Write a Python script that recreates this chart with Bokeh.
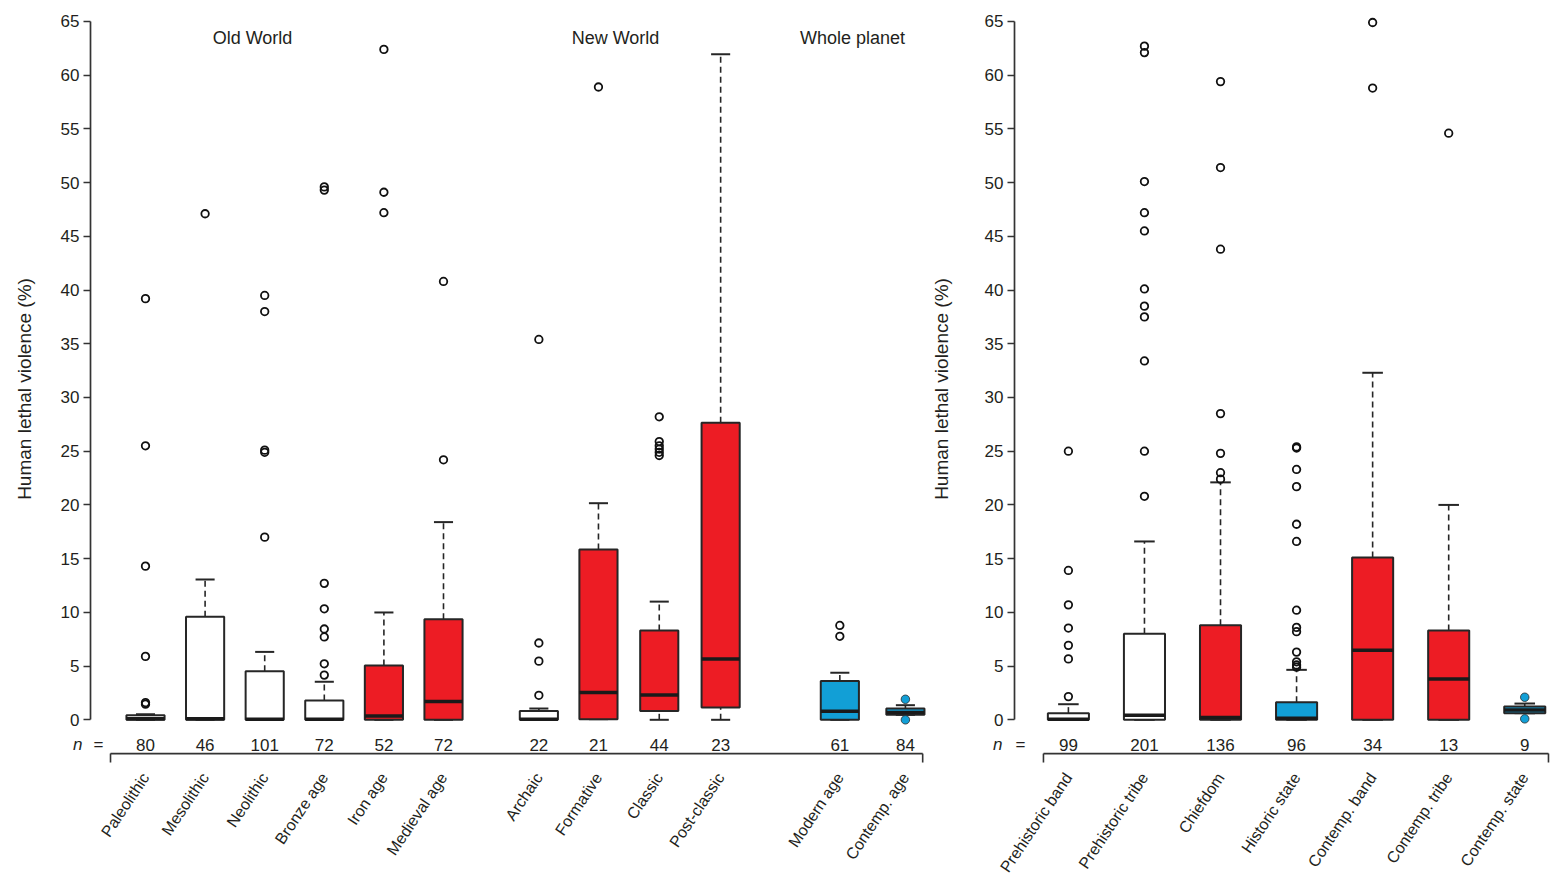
from bokeh.plotting import figure
from bokeh.layouts import row
from bokeh.models import FixedTicker, LinearAxis, Range1d, Label, ColumnDataSource
from bokeh.embed import file_html
from bokeh.resources import INLINE
from bokeh.core.properties import value

# ---------------- data: left panel (by period) ----------------
left_categories = ["Paleolithic", "Mesolithic", "Neolithic", "Bronze age", "Iron age", "Medieval age",
                   "Archaic", "Formative", "Classic", "Post-classic", "Modern age", "Contemp. age"]
left_n = [80, 46, 101, 72, 52, 72, 22, 21, 44, 23, 61, 84]
left_q1 = [0, 0, 0, 0, 0, 0, 0, 0.06, 0.83, 1.14, 0, 0.46]
left_median = [0.1, 0.1, 0.05, 0.05, 0.35, 1.7, 0.05, 2.53, 2.31, 5.67, 0.8, 0.68]
left_q3 = [0.43, 9.6, 4.53, 1.79, 5.06, 9.37, 0.83, 15.84, 8.32, 27.65, 3.6, 1.05]
left_low = [0, 0, 0, 0, 0, 0, 0, 0.06, 0, 0, 0, 0.46]
left_high = [0.52, 13.07, 6.32, 3.54, 9.99, 18.4, 1.05, 20.16, 11.0, 61.95, 4.38, 1.36]
left_outliers = [
    [1.45, 1.6, 5.9, 14.3, 25.5, 39.2],
    [47.1],
    [17.0, 24.9, 25.1, 38.0, 39.5],
    [4.16, 5.21, 7.71, 8.45, 10.33, 12.7, 49.3, 49.6],
    [47.2, 49.1, 62.4],
    [24.2, 40.8],
    [2.28, 5.46, 7.15, 35.4],
    [58.9],
    [24.6, 24.9, 25.2, 25.5, 25.9, 28.2],
    [],
    [7.77, 8.78],
    [0.0, 1.91],
]
left_groups = ["Old World", "New World", "Whole planet"]

# ---------------- data: right panel (by social organization) ----------------
right_categories = ["Prehistoric band", "Prehistoric tribe", "Chiefdom", "Historic state",
                    "Contemp. band", "Contemp. tribe", "Contemp. state"]
right_n = [99, 201, 136, 96, 34, 13, 9]
right_q1 = [0, 0, 0, 0, 0, 0, 0.62]
right_median = [0.05, 0.43, 0.21, 0.15, 6.47, 3.79, 0.92]
right_q3 = [0.62, 8.0, 8.81, 1.64, 15.1, 8.32, 1.23]
right_low = [0, 0, 0, 0, 0, 0, 0.62]
right_high = [1.45, 16.6, 22.1, 4.65, 32.3, 20.0, 1.51]
right_outliers = [
    [2.16, 5.67, 6.93, 8.54, 10.7, 13.9, 25.0],
    [20.8, 25.0, 33.4, 37.5, 38.5, 40.1, 45.5, 47.2, 50.1, 62.1, 62.7],
    [22.4, 23.0, 24.8, 28.5, 43.8, 51.4, 59.4],
    [4.9, 5.1, 5.4, 6.3, 8.2, 8.6, 10.2, 16.6, 18.2, 21.7, 23.3, 25.3, 25.4],
    [58.8, 64.9],
    [54.6],
    [0.09, 2.1],
]

y_ticks = [0, 5, 10, 15, 20, 25, 30, 35, 40, 45, 50, 55, 60, 65]
y_label = "Human lethal violence (%)"

# ---------------- styles / layout ----------------
RED = "#ED1C24"
BLUE = "#129FD6"
WHITE = "#FFFFFF"
EDGE = "#262626"
TXT = "#231F20"
FONT = "Liberation Sans"

left_fill = [WHITE, WHITE, WHITE, WHITE, RED, RED, WHITE, RED, RED, RED, BLUE, BLUE]
left_filled_out = [False] * 11 + [True]
right_fill = [WHITE, WHITE, RED, BLUE, RED, RED, BLUE]
right_filled_out = [False] * 6 + [True]

left_pos = [1, 2, 3, 4, 5, 6, 7.6, 8.6, 9.62, 10.65, 12.65, 13.75]
right_pos = [1, 2, 3, 4, 5, 6, 7]

TOP = 12
FRAME_H = 758
H = 882
PX_Y = 10.815            # pixels per unit on y
Y0 = -46 / PX_Y          # frame bottom
Y1 = 65 + 9 / PX_Y       # frame top
N_Y = -25 / PX_Y         # n = row
BR_Y = -34 / PX_Y        # bracket line
BR_Y2 = -43 / PX_Y       # bracket end ticks


def panel(cats, pos, n, q1, med, q3, lo, hi, outliers, fills, filled_out,
          width, min_left, min_right, px_unit, first_offset, box_w,
          br_left, br_right, n_standoff, eq_x, label_standoff, titles):
    frame_w = width - min_left - min_right
    xs = pos[0] - first_offset / px_unit
    xe = xs + frame_w / px_unit
    p = figure(width=width, height=H, x_range=Range1d(xs, xe), y_range=Range1d(Y0, Y1),
               output_backend="svg", toolbar_location=None,
               x_axis_location=None, y_axis_location=None,
               min_border_left=min_left, min_border_right=min_right,
               min_border_top=TOP, min_border_bottom=H - TOP - FRAME_H)
    p.outline_line_color = None
    p.background_fill_color = "white"
    p.border_fill_color = "white"

    # y axis
    yax = LinearAxis(ticker=FixedTicker(ticks=y_ticks), bounds=(0, 65), axis_label=y_label,
                     axis_label_text_font=FONT, axis_label_text_font_size="19px",
                     axis_label_text_font_style="normal", axis_label_text_color=TXT,
                     axis_label_standoff=label_standoff,
                     major_label_text_font=FONT, major_label_text_font_size="17px",
                     major_label_text_color=TXT, major_label_standoff=4,
                     major_tick_out=7, major_tick_in=0, minor_tick_line_color=None,
                     axis_line_width=1.7, axis_line_color="#333333",
                     major_tick_line_width=1.7, major_tick_line_color="#333333")
    p.add_layout(yax, "left")

    # italic "n" of the "n =" row: a tick label of an outer, line-less axis
    nax = LinearAxis(ticker=FixedTicker(ticks=[N_Y]), major_label_overrides={N_Y: "n"},
                     axis_line_color=None, major_tick_line_color=None, minor_tick_line_color=None,
                     major_tick_out=0, major_tick_in=0, major_label_standoff=n_standoff,
                     major_label_text_font=FONT, major_label_text_font_size="17px",
                     major_label_text_font_style="italic", major_label_text_color=TXT)
    p.add_layout(nax, "left")

    # category axis (rotated labels)
    xax = LinearAxis(ticker=FixedTicker(ticks=pos),
                     major_label_overrides={x: c for x, c in zip(pos, cats)},
                     major_label_orientation=0.98, axis_line_color=None,
                     major_tick_line_color=None, minor_tick_line_color=None,
                     major_label_text_font=FONT, major_label_text_font_size="16px",
                     major_label_text_color=TXT, major_label_standoff=3)
    p.add_layout(xax, "below")

    src = ColumnDataSource(dict(
        x=pos, q1=q1, q3=q3, med=med, lo=lo, hi=hi, fill=fills,
        c0=[x - box_w / 4 for x in pos], c1=[x + box_w / 4 for x in pos]))

    # whiskers
    p.segment(x0="x", y0="q3", x1="x", y1="hi", source=src, line_color=EDGE,
              line_width=1.6, line_dash="6 4")
    p.segment(x0="x", y0="lo", x1="x", y1="q1", source=src, line_color=EDGE,
              line_width=1.6, line_dash="6 4")
    p.segment(x0="c0", y0="hi", x1="c1", y1="hi", source=src, line_color=EDGE, line_width=2)
    p.segment(x0="c0", y0="lo", x1="c1", y1="lo", source=src, line_color=EDGE, line_width=2)

    # boxes and medians
    p.vbar(x="x", width=box_w, bottom="q1", top="q3", source=src, fill_color="fill",
           line_color=EDGE, line_width=2)
    p.rect(x="x", y="med", width=box_w, height=3.5, height_units="screen", source=src,
           fill_color="#1A1A1A", line_color=None)

    # outliers
    ox_open, oy_open, ox_fill, oy_fill, fc = [], [], [], [], []
    for x, outs, f, filled in zip(pos, outliers, fills, filled_out):
        for v in outs:
            if filled:
                ox_fill.append(x); oy_fill.append(v); fc.append(f)
            else:
                ox_open.append(x); oy_open.append(v)
    p.scatter(ox_open, oy_open, marker="circle", size=7.5, fill_color=None,
              line_color="#111111", line_width=1.8)
    if ox_fill:
        p.scatter(ox_fill, oy_fill, marker="circle", size=8.5, fill_color=fc,
                  line_color="#2A2A2A", line_width=0.8)

    # n = row
    p.text(x=pos, y=[N_Y] * len(pos), text=[str(v) for v in n], text_align="center",
           text_baseline="middle", text_font=value(FONT), text_font_size="17px", text_color=TXT)
    p.add_layout(Label(x=eq_x, y=N_Y, text="=", text_align="center", text_baseline="middle",
                       text_font=FONT, text_font_size="17px", text_color=TXT))

    # bracket under n row
    bx0 = pos[0] - br_left
    bx1 = pos[-1] + br_right
    p.segment(x0=[bx0, bx0, bx1], y0=[BR_Y, BR_Y, BR_Y], x1=[bx1, bx0, bx1], y1=[BR_Y, BR_Y2, BR_Y2],
              line_color="#333333", line_width=1.6)

    for tx, tt in titles:
        p.add_layout(Label(x=tx, y=63.5, text=tt, text_align="center", text_baseline="middle",
                           text_font=FONT, text_font_size="18px", text_color=TXT))
    p.grid.visible = False
    return p


left = panel(left_categories, left_pos, left_n, left_q1, left_median, left_q3, left_low,
             left_high, left_outliers, left_fill, left_filled_out,
             width=927, min_left=90, min_right=0, px_unit=59.6, first_offset=55, box_w=0.64,
             br_left=0.587, br_right=0.29, n_standoff=-72, eq_x=0.211, label_standoff=23,
             titles=list(zip([2.795, 8.886, 12.862], left_groups)))

right = panel(right_categories, right_pos, right_n, right_q1, right_median, right_q3, right_low,
              right_high, right_outliers, right_fill, right_filled_out,
              width=625, min_left=86, min_right=2, px_unit=76.2, first_offset=54, box_w=0.54,
              br_left=0.328, br_right=0.312, n_standoff=-75, eq_x=0.37, label_standoff=30,
              titles=[])

layout = row(left, right, spacing=0)
open("out.html", "w").write(file_html(layout, INLINE))
